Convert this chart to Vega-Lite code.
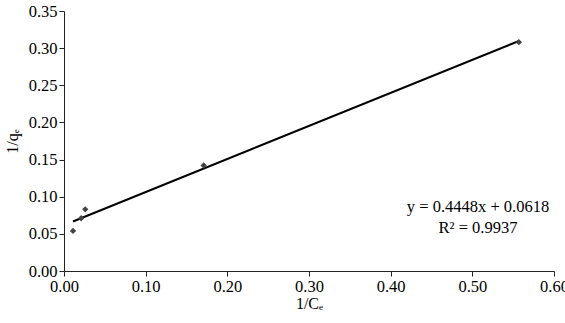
{
  "$schema": "https://vega.github.io/schema/vega-lite/v6.json",
  "autosize": "none",
  "width": 490,
  "height": 260,
  "padding": {"left": 64, "top": 11, "right": 11, "bottom": 52},
  "background": "white",
  "config": {
    "font": "Liberation Serif",
    "view": {"stroke": null},
    "axis": {
      "domainColor": "#222",
      "tickColor": "#222",
      "labelColor": "black",
      "titleColor": "black",
      "labelFont": "Liberation Serif",
      "titleFont": "Liberation Serif",
      "labelFontSize": 16.5,
      "titleFontSize": 16,
      "titleFontWeight": "normal",
      "labelOverlap": false,
      "labelFlush": false,
      "grid": false,
      "tickSize": 5
    }
  },
  "datasets": {
    "pts": [
      {"x": 0.011, "y": 0.054},
      {"x": 0.021, "y": 0.071},
      {"x": 0.026, "y": 0.083},
      {"x": 0.171, "y": 0.142},
      {"x": 0.557, "y": 0.308}
    ],
    "fit": [
      {"x": 0.011, "y": 0.0667},
      {"x": 0.557, "y": 0.3096}
    ],
    "ann": [
      {"x": 0.507, "y": 0.086, "t": "y = 0.4448x + 0.0618"},
      {"x": 0.507, "y": 0.058, "t": "R² = 0.9937"}
    ]
  },
  "encoding": {
    "x": {"field": "x", "type": "quantitative", "scale": {"domain": [0, 0.6], "nice": false},
      "axis": {"title": "1/Cₑ", "values": [0, 0.1, 0.2, 0.3, 0.4, 0.5, 0.6], "format": ".2f", "titlePadding": 1}},
    "y": {"field": "y", "type": "quantitative", "scale": {"domain": [0, 0.35], "nice": false},
      "axis": {"title": "1/qₑ", "values": [0, 0.05, 0.1, 0.15, 0.2, 0.25, 0.3, 0.35], "format": ".2f", "titlePadding": 8}}
  },
  "layer": [
    {
      "data": {"name": "fit"},
      "mark": {"type": "line", "color": "black", "strokeWidth": 2}
    },
    {
      "data": {"name": "pts"},
      "mark": {"type": "point", "shape": "diamond", "filled": true, "color": "#444", "size": 40, "opacity": 1}
    },
    {
      "data": {"name": "ann"},
      "mark": {"type": "text", "fontSize": 16.5, "align": "center", "baseline": "middle", "color": "black"},
      "encoding": {
        "text": {"field": "t"}
      }
    }
  ]
}
